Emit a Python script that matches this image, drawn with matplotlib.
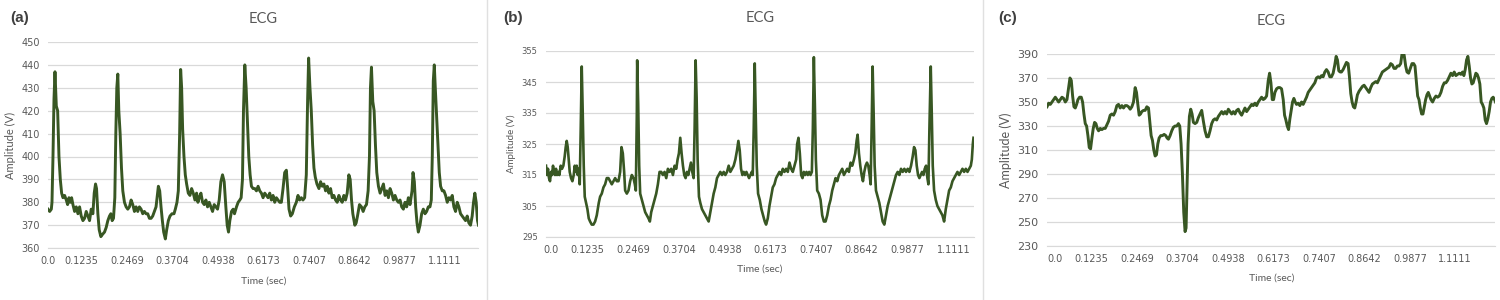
import matplotlib
matplotlib.use("Agg")
import matplotlib.pyplot as plt
from matplotlib.lines import Line2D

# time labels on the category axis (Excel style)
time_labels = ['0.0', '0.1235', '0.2469', '0.3704', '0.4938',
               '0.6173', '0.7407', '0.8642', '0.9877', '1.1111']

# (sample, amplitude)
ecg_a = [(0,377),(5,376),(10,377),(12,380),(15,400),(18,425),(21,437),(25,422),(29,420),(33,400),
         (37,390),(41,384),(45,382),(50,383),(55,381),(59,379),(63,382),(67,380),(71,382),(75,379),
         (80,376),(85,378),(90,375),(95,378),(100,374),(105,372),(110,373),(115,376),(120,374),(125,372),
         (130,377),(135,375),(139,384),(143,388),(146,386),(150,375),(154,368),(159,365),(164,366),(170,367),
         (175,369),(180,372),(185,374),(189,375),(193,372),(197,373),(201,382),(204,410),(207,430),(210,436),
         (213,420),(217,410),(221,395),(225,385),(230,380),(235,378),(240,377),(245,378),(250,381),(255,379),
         (260,376),(265,378),(270,376),(275,378),(280,377),(285,375),(290,376),(295,375),(300,375),(305,373),
         (310,373),(315,374),(320,376),(325,378),(329,383),(332,387),(336,385),(340,378),(344,372),(348,367),
         (353,364),(357,368),(362,372),(367,374),(373,375),(379,375),(383,377),(388,380),(392,385),(396,410),
         (399,438),(402,430),(405,412),(409,400),(413,392),(417,388),(422,384),(427,383),(432,386),(437,384),
         (442,381),(447,384),(451,380),(455,382),(460,384),(465,380),(470,379),(475,381),(480,378),(485,380),
         (490,378),(495,376),(500,379),(505,378),(510,377),(515,381),(520,389),(525,392),(530,389),(535,378),
         (539,370),(543,367),(547,372),(552,376),(557,377),(561,375),(567,378),(572,380),(577,381),(581,382),
         (585,390),(588,420),(592,440),(596,430),(600,415),(604,400),(608,392),(612,387),(617,386),(622,386),
         (627,385),(632,387),(637,385),(642,384),(647,382),(652,384),(657,383),(662,382),(667,384),(672,381),
         (677,383),(682,380),(687,382),(692,381),(697,380),(702,380),(707,386),(712,393),(717,394),(721,386),
         (725,377),(730,374),(735,375),(741,378),(747,380),(752,383),(757,381),(762,382),(767,381),(772,382),
         (777,392),(781,425),(784,443),(788,430),(792,420),(796,405),(800,395),(804,391),(809,388),(815,386),
         (820,389),(825,387),(830,388),(835,385),(840,387),(845,384),(850,386),(855,382),(860,383),(865,381),
         (870,380),(875,383),(880,381),(885,380),(890,383),(895,381),(900,384),(905,392),(909,390),(913,381),
         (917,375),(923,370),(927,371),(931,374),(937,379),(943,378),(948,376),(953,378),(958,379),(963,385),
         (967,400),(970,430),(973,439),(977,424),(981,420),(985,405),(989,393),(994,387),(999,384),(1004,386),
         (1009,388),(1014,383),(1019,385),(1024,382),(1029,386),(1034,384),(1039,381),(1044,383),(1049,381),(1054,380),
         (1059,381),(1064,378),(1069,377),(1074,380),(1079,378),(1084,382),(1089,379),(1095,385),(1098,393),(1102,389),
         (1106,378),(1110,371),(1114,367),(1119,370),(1124,375),(1129,377),(1134,375),(1139,376),(1144,378),(1149,378),
         (1153,381),(1156,400),(1159,433),(1162,440),(1165,430),(1169,418),(1173,405),(1177,393),(1181,387),(1186,385),
         (1191,385),(1196,383),(1201,380),(1206,382),(1211,381),(1216,383),(1221,378),(1226,376),(1231,380),(1236,378),
         (1241,375),(1246,374),(1251,373),(1256,372),(1261,374),(1266,371),(1271,370),(1276,374),(1280,380),(1284,384),
         (1288,380),(1292,372),(1295,370)]

ecg_b = [(0,318),(3,315),(6,317),(9,314),(12,313),(15,316),(18,315),(21,318),(24,316),(27,315),
         (30,317),(33,315),(37,316),(40,315),(44,318),(48,317),(52,318),(56,321),(59,324),(62,326),
         (65,324),(68,320),(71,316),(75,314),(79,313),(83,315),(86,318),(89,316),(92,318),(95,315),
         (98,317),(101,312),(104,330),(107,350),(110,335),(113,318),(116,308),(120,306),(124,304),(128,301),
         (132,300),(137,299),(142,299),(147,300),(152,302),(155,304),(158,306),(162,308),(167,309),(172,311),
         (177,312),(182,314),(187,314),(192,313),(197,312),(202,313),(207,314),(212,313),(217,313),(222,316),
         (226,324),(230,322),(234,316),(237,310),(242,309),(247,310),(252,313),(257,315),(262,314),(266,312),
         (269,310),(272,335),(273,352),(276,338),(279,318),(282,309),(287,307),(292,305),(297,303),(302,302),
         (307,301),(311,300),(315,303),(320,305),(325,307),(330,309),(335,312),(340,316),(345,316),(350,315),
         (355,316),(360,314),(365,317),(370,316),(375,317),(380,315),(385,318),(390,317),(394,320),(398,322),
         (402,327),(406,322),(410,318),(414,315),(418,314),(422,316),(426,315),(430,317),(434,319),(438,316),
         (442,314),(445,330),(448,352),(451,340),(454,320),(458,308),(462,306),(467,304),(472,303),(477,302),
         (482,301),(487,300),(492,303),(497,306),(502,309),(507,311),(512,314),(517,315),(522,316),(527,315),
         (532,316),(537,315),(542,316),(547,318),(552,316),(557,317),(562,318),(567,320),(572,323),(576,326),
         (580,323),(584,317),(588,315),(592,316),(596,315),(600,316),(604,315),(608,314),(612,315),(616,316),
         (619,315),(622,330),(625,351),(628,335),(631,318),(635,309),(640,307),(645,304),(650,302),(655,300),
         (659,299),(664,301),(669,305),(674,308),(679,311),(684,312),(689,314),(694,315),(699,316),(704,315),
         (709,317),(714,316),(719,317),(724,316),(729,319),(734,317),(739,316),(744,318),(749,320),(752,325),
         (756,327),(760,322),(764,315),(768,314),(772,316),(776,315),(780,316),(784,315),(788,316),(792,315),
         (796,316),(799,330),(802,353),(805,338),(808,320),(812,310),(817,309),(822,307),(827,302),(832,300),
         (837,300),(842,302),(847,305),(852,307),(857,310),(862,312),(867,314),(872,313),(877,315),(882,316),
         (887,317),(892,315),(897,316),(902,317),(907,316),(912,319),(917,318),(922,320),(926,322),(930,326),
         (933,328),(937,322),(941,318),(945,315),(949,313),(953,316),(957,318),(961,319),(965,318),(969,315),
         (972,312),(975,330),(978,350),(981,335),(984,318),(988,310),(993,308),(998,306),(1003,303),(1008,300),
         (1013,299),(1018,302),(1023,305),(1028,307),(1033,309),(1038,311),(1043,313),(1048,315),(1053,316),(1058,315),
         (1063,317),(1068,316),(1073,317),(1078,316),(1083,317),(1088,316),(1093,318),(1098,321),(1102,324),(1106,323),
         (1110,318),(1114,315),(1118,314),(1122,315),(1126,316),(1130,315),(1134,317),(1138,318),(1142,314),(1145,312),
         (1148,330),(1152,350),(1155,335),(1158,318),(1162,310),(1167,307),(1172,305),(1177,304),(1182,303),(1187,302),
         (1192,300),(1197,304),(1202,307),(1207,310),(1212,311),(1217,313),(1222,314),(1227,315),(1232,316),(1237,315),
         (1242,316),(1247,317),(1252,316),(1257,317),(1262,316),(1267,317),(1272,318),(1275,320),(1278,325),(1280,327)]

ecg_c = [(0,346),(5,349),(10,348),(15,350),(20,352),(25,354),(30,352),(35,350),(40,352),(45,354),
         (50,353),(55,350),(60,352),(65,362),(69,370),(73,368),(77,355),(81,346),(85,345),(89,348),
         (93,352),(98,354),(103,354),(107,350),(111,340),(115,332),(119,330),(123,322),(127,312),(131,311),
         (135,320),(139,328),(143,333),(147,332),(151,328),(155,326),(160,328),(165,327),(170,328),(175,328),
         (180,331),(185,334),(190,339),(195,340),(200,339),(205,342),(210,347),(215,348),(220,345),(225,347),
         (230,345),(235,347),(240,347),(245,346),(250,344),(255,346),(260,350),(265,362),(269,358),(273,348),
         (277,339),(281,340),(285,342),(290,343),(295,343),(300,346),(305,345),(309,333),(313,322),(317,318),
         (321,310),(325,305),(329,306),(333,315),(337,320),(342,322),(347,322),(352,323),(357,322),(361,320),
         (365,319),(370,322),(375,326),(380,329),(385,330),(390,330),(395,332),(399,330),(403,315),(407,290),
         (411,258),(415,242),(418,245),(421,280),(424,315),(428,338),(432,344),(436,340),(440,333),(445,332),
         (450,333),(455,337),(460,340),(465,343),(470,334),(475,326),(480,321),(485,321),(490,326),(495,332),
         (500,335),(505,336),(510,335),(515,338),(520,340),(525,342),(530,340),(535,342),(540,340),(545,344),
         (550,342),(555,340),(560,342),(565,340),(570,343),(575,344),(580,341),(585,339),(590,342),(595,345),
         (600,342),(605,344),(610,346),(615,348),(620,347),(625,349),(630,347),(635,350),(640,352),(645,354),
         (650,352),(655,353),(660,355),(665,368),(669,374),(673,366),(677,352),(681,352),(685,358),(690,361),
         (695,362),(700,362),(705,361),(710,352),(714,339),(718,335),(722,330),(726,327),(730,336),(734,343),
         (738,350),(742,353),(746,350),(750,348),(755,349),(760,347),(765,350),(770,348),(775,351),(780,354),
         (785,358),(790,360),(795,362),(800,364),(805,366),(810,370),(815,371),(820,370),(825,372),(830,371),
         (835,375),(840,377),(845,375),(850,371),(855,371),(860,374),(865,381),(869,388),(873,385),(877,376),
         (881,375),(885,375),(890,377),(895,380),(900,383),(905,382),(909,371),(913,357),(917,350),(921,346),
         (925,345),(929,350),(933,356),(938,359),(943,361),(948,363),(953,364),(958,362),(963,360),(968,358),
         (973,362),(978,365),(983,366),(988,367),(993,366),(998,369),(1003,372),(1008,375),(1013,376),(1018,377),
         (1023,378),(1028,379),(1033,382),(1038,381),(1043,378),(1048,378),(1053,380),(1058,380),(1063,382),(1067,390),
         (1070,394),(1074,388),(1078,380),(1082,375),(1087,374),(1092,378),(1097,382),(1102,382),(1106,380),(1110,368),
         (1114,355),(1118,352),(1122,345),(1126,340),(1130,340),(1134,346),(1138,352),(1142,356),(1146,358),(1150,355),
         (1154,352),(1159,350),(1164,353),(1169,355),(1174,354),(1179,355),(1184,358),(1189,363),(1194,366),(1199,366),
         (1204,368),(1209,371),(1214,374),(1219,372),(1224,375),(1229,372),(1234,373),(1239,374),(1244,373),(1249,375),
         (1253,372),(1257,377),(1261,385),(1265,388),(1269,380),(1273,370),(1277,365),(1281,366),(1285,370),(1289,374),
         (1293,373),(1297,370),(1301,365),(1305,350),(1309,348),(1313,345),(1317,335),(1321,332),(1325,336),(1329,342),
         (1333,350),(1337,353),(1341,354),(1345,352),(1348,350)]

green = '#385723'
grey = '#595959'
grid_c = '#d9d9d9'

fig = plt.figure(figsize=(15, 3), dpi=100)

panels = [
    # data, letter, axes rect, y range, y step, label positions, fonts
    dict(data=ecg_a, tag='(a)', rect=[0.032, 0.173, 0.287, 0.687], ylim=(360, 450), step=10,
         xmax=1295, ticks=[0, 100, 238, 375, 512, 648, 785, 922, 1058, 1195],
         tag_x=0.013, lab_x=0.008, ysize=7, lw=2.1),
    dict(data=ecg_b, tag='(b)', rect=[0.364, 0.21, 0.285, 0.62], ylim=(295, 355), step=10,
         xmax=1280, ticks=[15, 125, 262, 399, 536, 672, 809, 945, 1082, 1220],
         tag_x=0.342, lab_x=0.342, ysize=6, lw=1.9),
    dict(data=ecg_c, tag='(c)', rect=[0.698, 0.18, 0.299, 0.64], ylim=(230, 390), step=20,
         xmax=1348, ticks=[23, 132, 270, 407, 544, 680, 817, 954, 1091, 1227],
         tag_x=0.672, lab_x=0.672, ysize=8, lw=2.1),
]

for p in panels:
    ax = fig.add_axes(p['rect'])
    xs, ys = zip(*p['data'])
    ax.plot(xs, ys, color=green, lw=p['lw'], solid_joinstyle='round')
    ax.set_xlim(0, p['xmax'])
    lo, hi = p['ylim']
    ax.set_ylim(lo, hi)
    ax.set_yticks(range(lo, hi + 1, p['step']))
    ax.set_xticks(p['ticks'])
    ax.set_xticklabels(time_labels)
    ax.grid(axis='y', color=grid_c, lw=0.9)
    ax.set_axisbelow(True)
    for s in ['top', 'right', 'left']:
        ax.spines[s].set_visible(False)
    ax.spines['bottom'].set_color(grid_c)
    ax.tick_params(length=0, colors=grey)
    ax.tick_params(axis='x', labelsize=7, pad=6)
    ax.tick_params(axis='y', labelsize=p['ysize'], pad=6)
    ax.set_title('ECG', fontsize=10.5, color=grey, family='Lato', pad=0,
                 y=1.0, x=0.5)
    ax.title.set_position((0.5, 1.0))
    ax.set_xlabel('Time (sec)', fontsize=7.5, color=grey, family='Lato', labelpad=7)
    ax.set_ylabel('Amplitude (V)', fontsize=p['ysize'] + 1, color=grey, family='Lato')
    fig.text(p['tag_x'], 0.94, p['tag'], fontsize=11, fontweight='bold', color='#404040',
             family='Liberation Sans', va='center', ha='center')

# fix title heights in figure coordinates
for ax, yy in zip(fig.axes, [0.937, 0.94, 0.93]):
    ax.title.set_transform(fig.transFigure)
    ax.title.set_position((ax.get_position().x0 + ax.get_position().width / 2, yy))
    ax.title.set_va('center')

# thin separators between the panels
for xv in [0.3247, 0.6553]:
    fig.add_artist(Line2D([xv, xv], [0.0, 1.0], color='#e0e0e0', lw=1))

fig.savefig('out.png', dpi=100, facecolor='white')
